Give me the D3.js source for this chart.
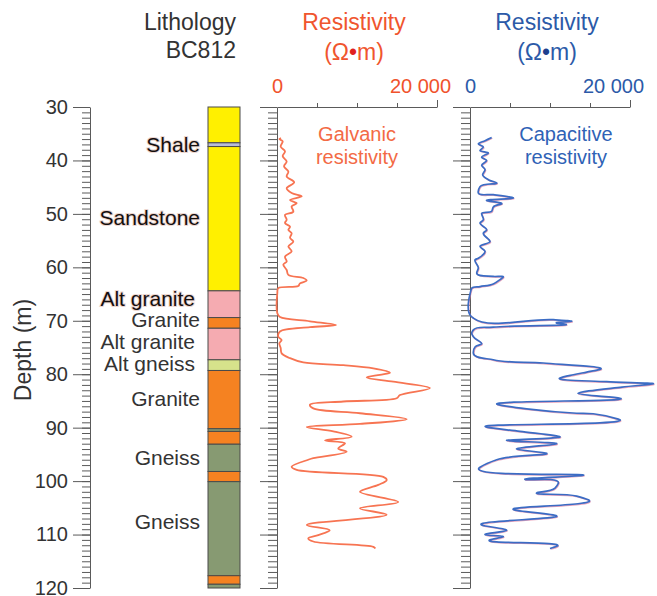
<!DOCTYPE html>
<html>
<head>
<meta charset="utf-8">
<script src="https://cdn.jsdelivr.net/npm/d3@7/dist/d3.min.js"></script>
<style>
  html, body { margin: 0; padding: 0; background: #fff; }
  svg { display: block; font-family: "Liberation Sans", Arial, Helvetica, sans-serif; }
</style>
</head>
<body>
<svg id="chart" width="657" height="596"></svg>
<script>
// ---- Lithology of borehole BC812 (top / bottom depth in m) ----
const layerTop    = [30, 36.7, 37.4, 64.4, 69.4, 71.4, 77.3, 79.3, 90.2, 90.7, 93.1, 98.2, 100.1, 117.7, 119.3];
const layerBottom = [36.7, 37.4, 64.4, 69.4, 71.4, 77.3, 79.3, 90.2, 90.7, 93.1, 98.2, 100.1, 117.7, 119.3, 120];
const layerRock   = ["sandstone", "shale", "sandstone", "altgranite", "granite", "altgranite", "altgneiss",
                     "granite", "gneiss", "granite", "gneiss", "granite", "gneiss", "granite", "gneiss"];

// Unit names written beside the column, with the depth of each text baseline
const unitNames  = ["Shale", "Sandstone", "Alt granite", "Granite", "Alt granite", "Alt gneiss", "Granite", "Gneiss", "Gneiss"];
const unitDepths = [38.5, 52.0, 67.2, 71.1, 75.3, 79.4, 85.9, 96.9, 109.0];
const unitStrong = [true, true, true, false, false, false, false, false, false];

// ---- Galvanic resistivity log (depth m, resistivity ohm-m) ----
const galvDepth = [35.8, 36.0, 36.4, 37.4, 38.3, 39.2, 40.2, 41.1, 42.1, 43.0, 44.1, 45.2, 46.1, 46.7, 47.4,
  48.0, 48.6, 49.6, 50.2, 51.1, 51.7, 52.4, 53.0, 53.6, 54.5, 55.2, 56.1, 57.0, 58.0, 58.9, 59.5, 60.5,
  61.4, 62.0, 62.5, 63.0, 63.5, 63.9, 64.8, 68.6, 69.3, 70.1, 70.8, 71.2, 72.0, 73.0, 73.6, 74.2, 75.1,
  76.1, 77.0, 77.8, 78.3, 78.9, 79.7, 80.1, 80.6, 81.4, 82.6, 83.9, 84.5, 85.1, 85.7, 86.4, 87.3, 88.4,
  89.3, 89.9, 90.7, 91.7, 92.4, 92.9, 93.9, 94.5, 95.7, 96.0, 97.3, 97.9, 99.2, 99.8, 100.7, 102.0,
  103.9, 105.1, 106.3, 108.2, 109.2, 110.1, 110.7, 111.3, 112.3, 112.6];
const galvValue = [500, 290, 710, 460, 1000, 710, 1210, 880, 1420, 1210, 2150, 1210, 1830, 3090, 1630,
  2460, 1830, 2040, 1000, 1210, 1000, 1630, 1420, 1830, 1630, 2040, 1420, 1830, 1000, 1210, 790, 1210,
  1420, 3290, 3710, 2870, 2660, 160, 40, 40, 370, 4120, 7380, 4120, 370, 160, 580, 290, 460,
  580, 1630, 3290, 8290, 12040, 14120, 12870, 11210, 14540, 19120, 15370, 14960, 8290, 4120, 4540, 10370, 16210,
  10370, 3710, 7040, 9330, 6000, 8500, 7660, 8710, 4540, 3910, 1830, 2460, 13290, 13710, 12660, 10370,
  15160, 10370, 13710, 3710, 6590, 5160, 3910, 4540, 12040, 12290];

// ---- Capacitive resistivity log (depth m, resistivity ohm-m) ----
const capDepth = [35.7, 36.3, 36.9, 37.5, 38.1, 38.6, 39.4, 40.0, 40.9, 41.7, 42.7, 43.6, 44.2, 44.9, 46.1,
  46.4, 47.0, 47.5, 48.1, 48.7, 49.5, 49.9, 51.1, 51.7, 53.0, 53.6, 55.2, 56.1, 57.0, 58.3, 58.6, 60.1,
  61.1, 61.7, 61.8, 62.3, 63.1, 63.6, 63.9, 64.5, 69.1, 69.5, 69.8, 70.1, 70.4, 70.6, 71.2, 71.7, 72.3,
  73.0, 74.3, 74.9, 76.1, 77.3, 77.9, 79.1, 79.6, 80.1, 80.7, 81.4, 81.8, 82.4, 83.6, 84.5, 85.7, 86.5,
  87.3, 87.4, 88.4, 89.9, 90.7, 91.7, 92.4, 93.0, 94.0, 94.8, 96.0, 97.4, 98.9, 99.7, 100.4, 101.3,
  102.2, 102.8, 103.5, 105.3, 106.5, 108.2, 109.2, 110.0, 110.4, 111.0, 112.2, 112.6];
const capValue = [2710, 1880, 1040, 1670, 1250, 2290, 1460, 2080, 1460, 1880, 1580, 2290, 3340, 1250, 1040,
  2910, 5410, 2080, 3960, 2910, 2710, 1460, 1670, 1250, 2080, 1670, 2500, 1250, 1880, 1040, 630, 1040,
  840, 2910, 4160, 3750, 2910, 1250, 210, 80, 100, 420, 10420, 12710, 10800, 11800, 2910, 420, 210,
  420, 1460, 630, 420, 2910, 9160, 16250, 14590, 12910, 11250, 17080, 22910, 19000, 13500, 18750, 3540, 7080,
  13330, 15410, 18540, 2080, 6250, 11250, 4580, 10830, 5830, 9580, 3340, 1250, 14160, 6880, 11040, 10630,
  8340, 13340, 14790, 5410, 10830, 1460, 4580, 1880, 4160, 2500, 10830, 10000];

// Depth axis ticks and resistivity axis ticks
const depthMajor = d3.range(30, 121, 10);
const depthMinor = d3.range(30, 121, 1);
const resTicks = [0, 5000, 10000, 15000, 20000];

const rockFill = {
  sandstone: "#fff000", shale: "#b9bdd6", altgranite: "#f5abb1", granite: "#f58221",
  altgneiss: "#d6e28b", gneiss: "#879a72"
};

const svg = d3.select("#chart");
const axisGrey = "#5a5a5a";

const y = d3.scaleLinear().domain([30, 120]).range([107, 588]);
const xGalv = d3.scaleLinear().domain([0, 20000]).range([277, 437]);
const xCap = d3.scaleLinear().domain([0, 20000]).range([470, 630]);

function styleAxis(g) {
  g.selectAll("path, line").attr("stroke", axisGrey).attr("stroke-width", 1);
}

// depth axes: one with labels (left) and two bare ones beside the logs
function depthAxis(xPos, withLabels) {
  const minor = svg.append("g").attr("transform", `translate(${xPos},0)`)
    .call(d3.axisLeft(y).tickValues(depthMinor).tickSize(withLabels ? 8 : 9).tickSizeOuter(0).tickFormat(""));
  minor.select(".domain").remove();
  styleAxis(minor);
  const major = svg.append("g").attr("transform", `translate(${xPos},0)`)
    .call(d3.axisLeft(y).tickValues(depthMajor).tickSize(17).tickSizeOuter(0).tickPadding(5)
      .tickFormat(withLabels ? d3.format("d") : ""));
  styleAxis(major);
  major.selectAll("text").attr("font-size", 20).attr("fill", "#333")
    .attr("font-family", "Liberation Sans, Arial, sans-serif");
}
depthAxis(90, true);
depthAxis(277, false);
depthAxis(470, false);

// resistivity scales along the top edge of each log
function resAxis(scale, color) {
  const g = svg.append("g").attr("transform", `translate(0,${y(30)})`)
    .call(d3.axisTop(scale).tickValues(resTicks).tickSize(4).tickSizeOuter(0).tickPadding(10)
      .tickFormat(d => d === 0 ? "0" : d === 20000 ? "20 000" : ""));
  styleAxis(g);
  g.selectAll(".tick").filter(d => d === 20000).select("line").attr("y2", -7);
  g.selectAll(".tick").filter(d => d === 0).select("line").remove();
  g.selectAll("text").attr("font-size", 20).attr("fill", color)
    .attr("font-family", "Liberation Sans, Arial, sans-serif");
  g.selectAll(".tick").filter(d => d === 20000).select("text").attr("dx", -17);
}
resAxis(xGalv, "#f0522c");
resAxis(xCap, "#2c5aa8");

// lithology column
const colX = 208, colW = 32;
svg.append("g").selectAll("rect")
  .data(layerRock.map((r, i) => ({ rock: r, top: layerTop[i], bottom: layerBottom[i] })))
  .join("rect")
  .attr("x", colX).attr("width", colW)
  .attr("y", d => y(d.top)).attr("height", d => y(d.bottom) - y(d.top))
  .attr("fill", d => rockFill[d.rock])
  .attr("stroke", "#4a4a4a").attr("stroke-width", 1);

svg.append("g").selectAll("text")
  .data(unitNames.map((n, i) => ({ name: n, depth: unitDepths[i], strong: unitStrong[i] })))
  .join("text")
  .attr("x", d => d.name.startsWith("Alt") ? 195 : 200)
  .attr("y", d => y(d.depth))
  .attr("text-anchor", "end")
  .attr("font-size", 21)
  .attr("fill", d => d.strong ? "#140e0e" : "#333")
  .attr("stroke", d => d.strong ? "#ecd6d0" : "none")
  .attr("stroke-width", 2)
  .attr("paint-order", "stroke")
  .text(d => d.name);

// titles
svg.append("text").attr("x", 236).attr("y", 30).attr("text-anchor", "end")
  .attr("font-size", 23).attr("fill", "#333").text("Lithology");
svg.append("text").attr("x", 236).attr("y", 58).attr("text-anchor", "end")
  .attr("font-size", 23).attr("fill", "#333").text("BC812");

svg.append("text").attr("transform", "translate(31,350) rotate(-90)").attr("text-anchor", "middle")
  .attr("font-size", 23).attr("fill", "#333").text("Depth (m)");

function resTitle(cx, color, dotColor) {
  svg.append("text").attr("x", cx).attr("y", 30).attr("text-anchor", "middle")
    .attr("font-size", 23).attr("fill", color).text("Resistivity");
  const t = svg.append("text").attr("x", cx).attr("y", 60).attr("text-anchor", "middle")
    .attr("font-size", 23).attr("fill", color);
  t.append("tspan").text("(Ω");
  t.append("tspan").attr("fill", dotColor).text("•");
  t.append("tspan").text("m)");
}
resTitle(354, "#f0552e", "#e0201e");
resTitle(547, "#2c5aa8", "#1d3f8e");

function curveLabel(cx, lines, color) {
  lines.forEach((s, i) => {
    svg.append("text").attr("x", cx).attr("y", 141 + i * 23).attr("text-anchor", "middle")
      .attr("font-size", 20).attr("fill", color).text(s);
  });
}
curveLabel(357, ["Galvanic", "resistivity"], "#f36a45");
curveLabel(566, ["Capacitive", "resistivity"], "#2f62b6");

// logs
const galvPts = galvDepth.map((d, i) => ({ d, v: galvValue[i] }));
const capPts = capDepth.map((d, i) => ({ d, v: capValue[i] }));

svg.append("path").datum(galvPts)
  .attr("d", d3.line().x(p => xGalv(p.v)).y(p => y(p.d)).curve(d3.curveCatmullRom.alpha(0.5)))
  .attr("fill", "none").attr("stroke", "#f77452").attr("stroke-width", 1.8)
  .attr("stroke-linejoin", "round");

const capLine = d3.line().x(p => xCap(p.v)).y(p => y(p.d)).curve(d3.curveCatmullRom.alpha(0.9));
svg.append("path").datum(capPts)
  .attr("d", capLine).attr("transform", "translate(0.7,0.8)")
  .attr("fill", "none").attr("stroke", "#e07c9c").attr("stroke-width", 1.2).attr("opacity", 0.7);
svg.append("path").datum(capPts)
  .attr("d", capLine)
  .attr("fill", "none").attr("stroke", "#3b6cc4").attr("stroke-width", 1.7)
  .attr("stroke-linejoin", "round");
</script>
</body>
</html>
